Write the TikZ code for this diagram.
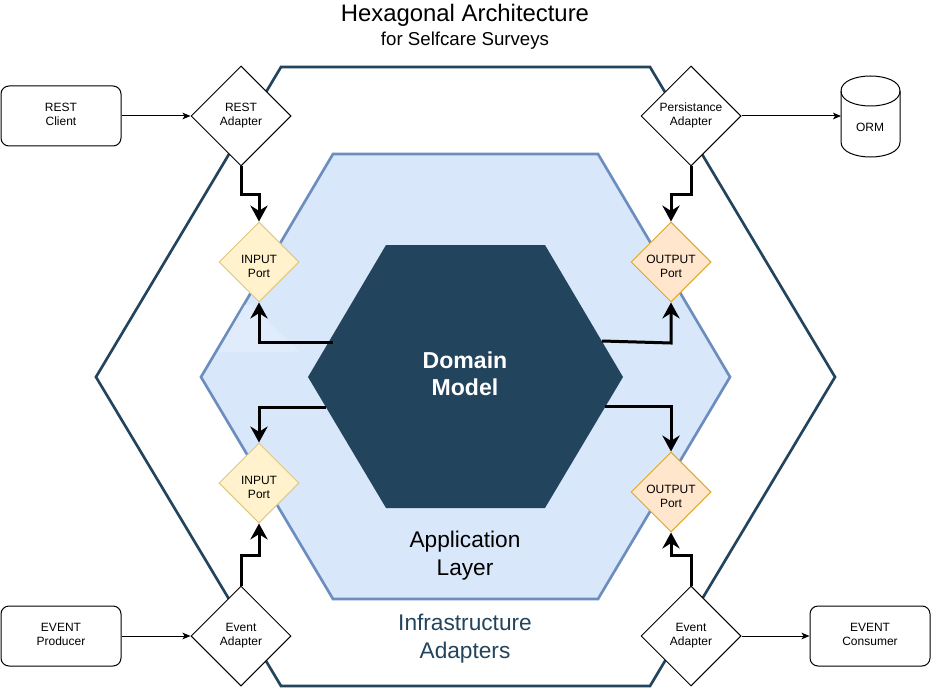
\documentclass[tikz,border=0pt]{standalone}
\usepackage{fontspec}
\setmainfont{Liberation Sans}
\usetikzlibrary{shapes.geometric,arrows.meta}
\definecolor{navy}{HTML}{23445D}
\definecolor{lblue}{HTML}{D9E7FB}
\definecolor{llblue}{HTML}{E0ECFC}
\definecolor{mblue}{HTML}{6C8EBF}
\definecolor{lyel}{HTML}{FFF2CC}
\definecolor{myel}{HTML}{DFC780}
\definecolor{lora}{HTML}{FFE6CC}
\definecolor{mora}{HTML}{DCA826}
% two centred lines, with struts that set where they sit in the node
\newcommand\twolup[2]{\rule{0pt}{8pt}#1\\#2\rule[-4.4pt]{0pt}{4.4pt}}
\newcommand\twoldn[2]{\rule{0pt}{14.5pt}#1\\#2\rule[-2.5pt]{0pt}{2.5pt}}
\tikzset{
 x=0.75pt,y=-0.75pt,
 lbl/.style={font=\fontsize{9pt}{10.5pt}\selectfont,align=center,text=black},
 dia/.style={diamond,draw=black,fill=white,line width=0.75pt,minimum width=75pt,minimum height=75pt,inner sep=-4pt,aspect=1,lbl},
 port/.style={diamond,line width=0.75pt,minimum width=60pt,minimum height=60pt,inner sep=-8pt,aspect=1,lbl},
 inport/.style={port,draw=myel,fill=lyel},
 outport/.style={port,draw=mora,fill=lora},
 client/.style={rectangle,rounded corners=6pt,draw=black,fill=white,line width=0.75pt,minimum width=90pt,minimum height=45pt,inner sep=0pt,lbl},
 thin arrow/.style={draw=black,line width=0.75pt,-{Stealth[length=6pt,width=5pt,inset=1.5pt]}},
 bold arrow/.style={draw=black,line width=2.25pt,-{Stealth[length=12pt,width=13pt,inset=4pt]}},
 hexa/.style={line join=miter},
}
\begin{document}
\begin{tikzpicture}
\useasboundingbox (0,0) rectangle (931,688);
\draw[hexa,draw=navy,line width=2pt,fill=white] (281,67)--(650,67)--(835,377)--(650,686)--(281,686)--(96,377)--cycle;
\draw[hexa,draw=mblue,line width=2pt,fill=lblue] (333,154)--(598,154)--(730,377)--(598,599)--(333,599)--(201,377)--cycle;
\path[fill=llblue] (250,304)--(300,352)--(218,352)--(245,305)--cycle;
\path[hexa,fill=navy] (386,245)--(545,245)--(623,377)--(545,508)--(386,508)--(308,377)--cycle;
\coordinate (dl1) at (333,342);
\coordinate (dr1) at (602,341);
\coordinate (dl2) at (326,407);
\coordinate (dr2) at (605,406);
\coordinate (br1) at (671,343);
\node[font=\fontsize{17.3pt}{20pt}\selectfont\bfseries,text=white,align=center] (dom) at (465,374) {Domain\\Model};
\node[font=\fontsize{17pt}{21pt}\selectfont,align=center] (app) at (465,556) {Application\\Layer};
\node[font=\fontsize{17pt}{21pt}\selectfont,align=center,text=navy] (inf) at (465,639) {Infrastructure\\Adapters};
\node[align=center,inner sep=0pt] (ttl) at (465,26.5) {{\fontsize{17.9pt}{21pt}\selectfont Hexagonal Architecture}\\[3pt]{\fontsize{14pt}{15pt}\selectfont for Selfcare Surveys}};
\node[inport] (ip1) at (259,262) {\twoldn{INPUT}{Port}};
\node[outport] (op1) at (671,262) {\twoldn{OUTPUT}{Port}};
\node[inport] (ip2) at (259,483) {\twoldn{INPUT}{Port}};
\node[outport] (op2) at (671,492) {\twoldn{OUTPUT}{Port}};
\node[dia] (ra) at (241,116) {\twolup{REST}{Adapter}};
\node[dia] (pa) at (691,116) {\twolup{Persistance}{Adapter}};
\node[dia] (ea1) at (241,636) {\twolup{Event}{Adapter}};
\node[dia] (ea2) at (691,636) {\twolup{Event}{Adapter}};
\node[client] (rc) at (61,116) {\twolup{REST}{Client}};
\node[client] (ep) at (61,636) {\twolup{EVENT}{Producer}};
\node[client] (ec) at (870,636) {\twolup{EVENT}{Consumer}};
\draw[draw=black,fill=white,line width=0.75pt] (841,91) -- (841,142) .. controls (841,162) and (900,162) .. (900,142) -- (900,91) .. controls (900,71) and (841,71) .. (841,91) -- cycle;
\draw[line width=0.75pt] (841,91) .. controls (841,111) and (900,111) .. (900,91);
\node[lbl] (orm) at (870,127) {ORM};
\coordinate (ormw) at (841,116);
\draw[thin arrow] (rc) -- (ra);
\draw[thin arrow] (pa) -- (ormw);
\draw[thin arrow] (ep) -- (ea1);
\draw[thin arrow] (ea2) -- (ec);
\draw[bold arrow] (ra.south) -- ++(0,28) -| (ip1.north);
\draw[bold arrow] (pa.south) -- ++(0,28) -| (op1.north);
\draw[bold arrow] (dl1) -| (ip1.south);
\draw[bold arrow] (dr1) -- (br1) -- (op1.south);
\draw[bold arrow] (dl2) -| (ip2.north);
\draw[bold arrow] (dr2) -| (op2.north);
\draw[bold arrow] (ea1.north) -- ++(0,-30) -| (ip2.south);
\draw[bold arrow] (ea2.north) -- ++(0,-30) -| (op2.south);
\end{tikzpicture}
\end{document}
